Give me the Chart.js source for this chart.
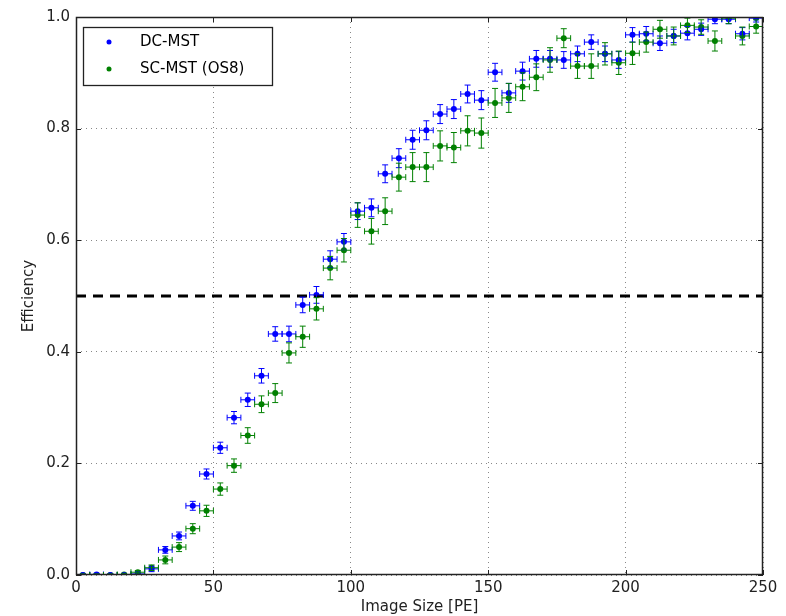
<!DOCTYPE html>
<html>
<head>
<meta charset="utf-8">
<script src="https://cdn.jsdelivr.net/npm/chart.js@4"></script>
<style>
  html, body { margin: 0; padding: 0; background: #fff; }
  #wrap { width: 786px; height: 616px; }
</style>
</head>
<body>
<div id="wrap"><canvas id="effChart" width="786" height="616"></canvas></div>
<script>
// bin centres [PE]
const imageSize = [2.5, 7.5, 12.5, 17.5, 22.5, 27.5, 32.5, 37.5, 42.5, 47.5,
  52.5, 57.5, 62.5, 67.5, 72.5, 77.5, 82.5, 87.5, 92.5, 97.5,
  102.5, 107.5, 112.5, 117.5, 122.5, 127.5, 132.5, 137.5, 142.5, 147.5,
  152.5, 157.5, 162.5, 167.5, 172.5, 177.5, 182.5, 187.5, 192.5, 197.5,
  202.5, 207.5, 212.5, 217.5, 222.5, 227.5, 232.5, 237.5, 242.5, 247.5];
const binHalfWidth = 2.5;

const dcMst = [0.0, 0.001, 0.0, 0.0, 0.002, 0.011, 0.045, 0.07, 0.124, 0.181,
  0.228, 0.282, 0.314, 0.357, 0.432, 0.432, 0.484, 0.502, 0.566, 0.597,
  0.652, 0.658, 0.719, 0.747, 0.780, 0.797, 0.826, 0.835, 0.862, 0.851,
  0.901, 0.864, 0.903, 0.925, 0.925, 0.923, 0.934, 0.955, 0.934, 0.923,
  0.968, 0.970, 0.953, 0.966, 0.971, 0.978, 0.996, 0.996, 0.970, 0.998];
const dcMstErr = [0.002, 0.002, 0.002, 0.002, 0.003, 0.005, 0.006, 0.007, 0.008, 0.009,
  0.010, 0.011, 0.012, 0.013, 0.013, 0.014, 0.014, 0.015, 0.015, 0.015,
  0.015, 0.016, 0.016, 0.017, 0.017, 0.017, 0.017, 0.017, 0.016, 0.017,
  0.016, 0.017, 0.016, 0.015, 0.015, 0.015, 0.014, 0.013, 0.014, 0.015,
  0.013, 0.013, 0.013, 0.012, 0.012, 0.011, 0.008, 0.008, 0.011, 0.007];

const scMst = [0.0, 0.0, 0.0, 0.001, 0.005, 0.013, 0.027, 0.05, 0.083, 0.115,
  0.154, 0.196, 0.25, 0.306, 0.326, 0.398, 0.427, 0.477, 0.55, 0.582,
  0.645, 0.616, 0.652, 0.713, 0.731, 0.731, 0.769, 0.766, 0.796, 0.792,
  0.846, 0.855, 0.875, 0.892, 0.923, 0.962, 0.912, 0.912, 0.934, 0.918,
  0.935, 0.955, 0.978, 0.966, 0.985, 0.982, 0.957, 0.998, 0.966, 0.983];
const scMstErr = [0.002, 0.002, 0.002, 0.002, 0.003, 0.005, 0.007, 0.008, 0.009, 0.010,
  0.011, 0.012, 0.014, 0.015, 0.017, 0.018, 0.019, 0.020, 0.021, 0.021,
  0.022, 0.023, 0.024, 0.025, 0.026, 0.026, 0.027, 0.027, 0.027, 0.027,
  0.026, 0.026, 0.025, 0.024, 0.022, 0.017, 0.022, 0.022, 0.020, 0.021,
  0.020, 0.018, 0.016, 0.016, 0.013, 0.013, 0.018, 0.010, 0.016, 0.012];

const thresholdX = [0, 250];
const thresholdY = [0.5, 0.5];

const seriesNames = ['DC-MST', 'SC-MST (OS8)'];
const FONT = 'DejaVu Sans';

function toPoints(xs, ys, errs) {
  return xs.map((x, i) => ({ x: x, y: ys[i], e: errs ? errs[i] : 0 }));
}

// error bars, frame, inward ticks and the in-plot legend
const extras = {
  id: 'extras',
  afterDatasetsDraw(chart) {
    const ctx = chart.ctx;
    const xs = chart.scales.x, ys = chart.scales.y;
    const a = chart.chartArea;
    ctx.save();
    ctx.beginPath();
    ctx.rect(a.left, a.top, a.right - a.left, a.bottom - a.top);
    ctx.clip();
    chart.data.datasets.forEach(ds => {
      if (!ds.errorBars) return;
      ctx.strokeStyle = ds.borderColor;
      ctx.lineWidth = 1;
      ds.data.forEach(p => {
        const cx = xs.getPixelForValue(p.x);
        const cy = ys.getPixelForValue(p.y);
        const x0 = xs.getPixelForValue(p.x - binHalfWidth);
        const x1 = xs.getPixelForValue(p.x + binHalfWidth);
        const y0 = ys.getPixelForValue(p.y - p.e);
        const y1 = ys.getPixelForValue(p.y + p.e);
        ctx.beginPath();
        ctx.moveTo(x0, cy); ctx.lineTo(x1, cy);
        ctx.moveTo(x0, cy - 3); ctx.lineTo(x0, cy + 3);
        ctx.moveTo(x1, cy - 3); ctx.lineTo(x1, cy + 3);
        ctx.moveTo(cx, y0); ctx.lineTo(cx, y1);
        ctx.moveTo(cx - 3, y0); ctx.lineTo(cx + 3, y0);
        ctx.moveTo(cx - 3, y1); ctx.lineTo(cx + 3, y1);
        ctx.stroke();
      });
    });
    ctx.restore();
  },
  afterDraw(chart) {
    const ctx = chart.ctx;
    const a = chart.chartArea;
    const xs = chart.scales.x, ys = chart.scales.y;
    ctx.save();
    // frame
    ctx.strokeStyle = '#222';
    ctx.lineWidth = 1.5;
    ctx.strokeRect(a.left + 0.5, a.top + 0.5, a.right - a.left - 1, a.bottom - a.top - 1);
    // inward ticks on all four sides
    ctx.lineWidth = 1;
    ctx.beginPath();
    xs.ticks.forEach(t => {
      const px = Math.round(xs.getPixelForValue(t.value)) + 0.5;
      ctx.moveTo(px, a.bottom); ctx.lineTo(px, a.bottom - 5);
      ctx.moveTo(px, a.top); ctx.lineTo(px, a.top + 5);
    });
    ys.ticks.forEach(t => {
      const py = Math.round(ys.getPixelForValue(t.value)) + 0.5;
      ctx.moveTo(a.left, py); ctx.lineTo(a.left + 5, py);
      ctx.moveTo(a.right, py); ctx.lineTo(a.right - 5, py);
    });
    ctx.stroke();
    // legend
    const lx = a.left + 7, ly = a.top + 10, lw = 189, lh = 58;
    ctx.fillStyle = '#fff';
    ctx.fillRect(lx, ly, lw, lh);
    ctx.strokeStyle = '#222';
    ctx.lineWidth = 1.3;
    ctx.strokeRect(lx + 0.5, ly + 0.5, lw, lh);
    const rows = chart.data.datasets.filter(d => d.errorBars);
    ctx.font = '15px "' + FONT + '"';
    ctx.textBaseline = 'middle';
    rows.forEach((d, i) => {
      const ry = ly + 15 + i * 27;
      ctx.fillStyle = d.backgroundColor;
      ctx.beginPath();
      ctx.arc(lx + 26, ry, 2.5, 0, Math.PI * 2);
      ctx.fill();
      ctx.fillStyle = '#000';
      ctx.fillText(d.label, lx + 57, ry);
    });
    ctx.restore();
  }
};

new Chart(document.getElementById('effChart'), {
  type: 'scatter',
  data: {
    datasets: [
      {
        label: 'threshold',
        type: 'line',
        data: toPoints(thresholdX, thresholdY),
        borderColor: '#000',
        borderWidth: 3,
        borderDash: [10, 7],
        pointRadius: 0,
        fill: false
      },
      {
        label: seriesNames[0],
        data: toPoints(imageSize, dcMst, dcMstErr),
        errorBars: true,
        borderColor: '#0000ff',
        backgroundColor: '#0000ff',
        pointRadius: 3,
        pointBorderWidth: 0
      },
      {
        label: seriesNames[1],
        data: toPoints(imageSize, scMst, scMstErr),
        errorBars: true,
        borderColor: '#008000',
        backgroundColor: '#008000',
        pointRadius: 3,
        pointBorderWidth: 0
      }
    ]
  },
  options: {
    responsive: false,
    animation: false,
    layout: { padding: { left: 20, right: 23, top: 17, bottom: 0 } },
    plugins: { legend: { display: false }, tooltip: { enabled: false } },
    scales: {
      x: {
        type: 'linear',
        min: 0, max: 250,
        afterFit: s => { s.height = 41; },
        border: { display: false, dash: [1, 4] },
        grid: { color: '#888', drawTicks: false, lineWidth: 1 },
        ticks: { stepSize: 50, padding: 4, color: '#222', font: { family: FONT, size: 15 } },
        title: { display: true, text: 'Image Size [PE]', color: '#222', padding: { top: 0, bottom: 0 }, font: { family: FONT, size: 15 } }
      },
      y: {
        min: 0, max: 1,
        afterFit: s => { s.width = 56; },
        border: { display: false, dash: [1, 4] },
        grid: { color: '#888', drawTicks: false, lineWidth: 1 },
        ticks: { stepSize: 0.2, padding: 6, color: '#222', font: { family: FONT, size: 15 },
          callback: v => v.toFixed(1) },
        title: { display: true, text: 'Efficiency', color: '#222', padding: { top: 0, bottom: 0 }, font: { family: FONT, size: 15 } }
      }
    }
  },
  plugins: [extras]
});
</script>
</body>
</html>
